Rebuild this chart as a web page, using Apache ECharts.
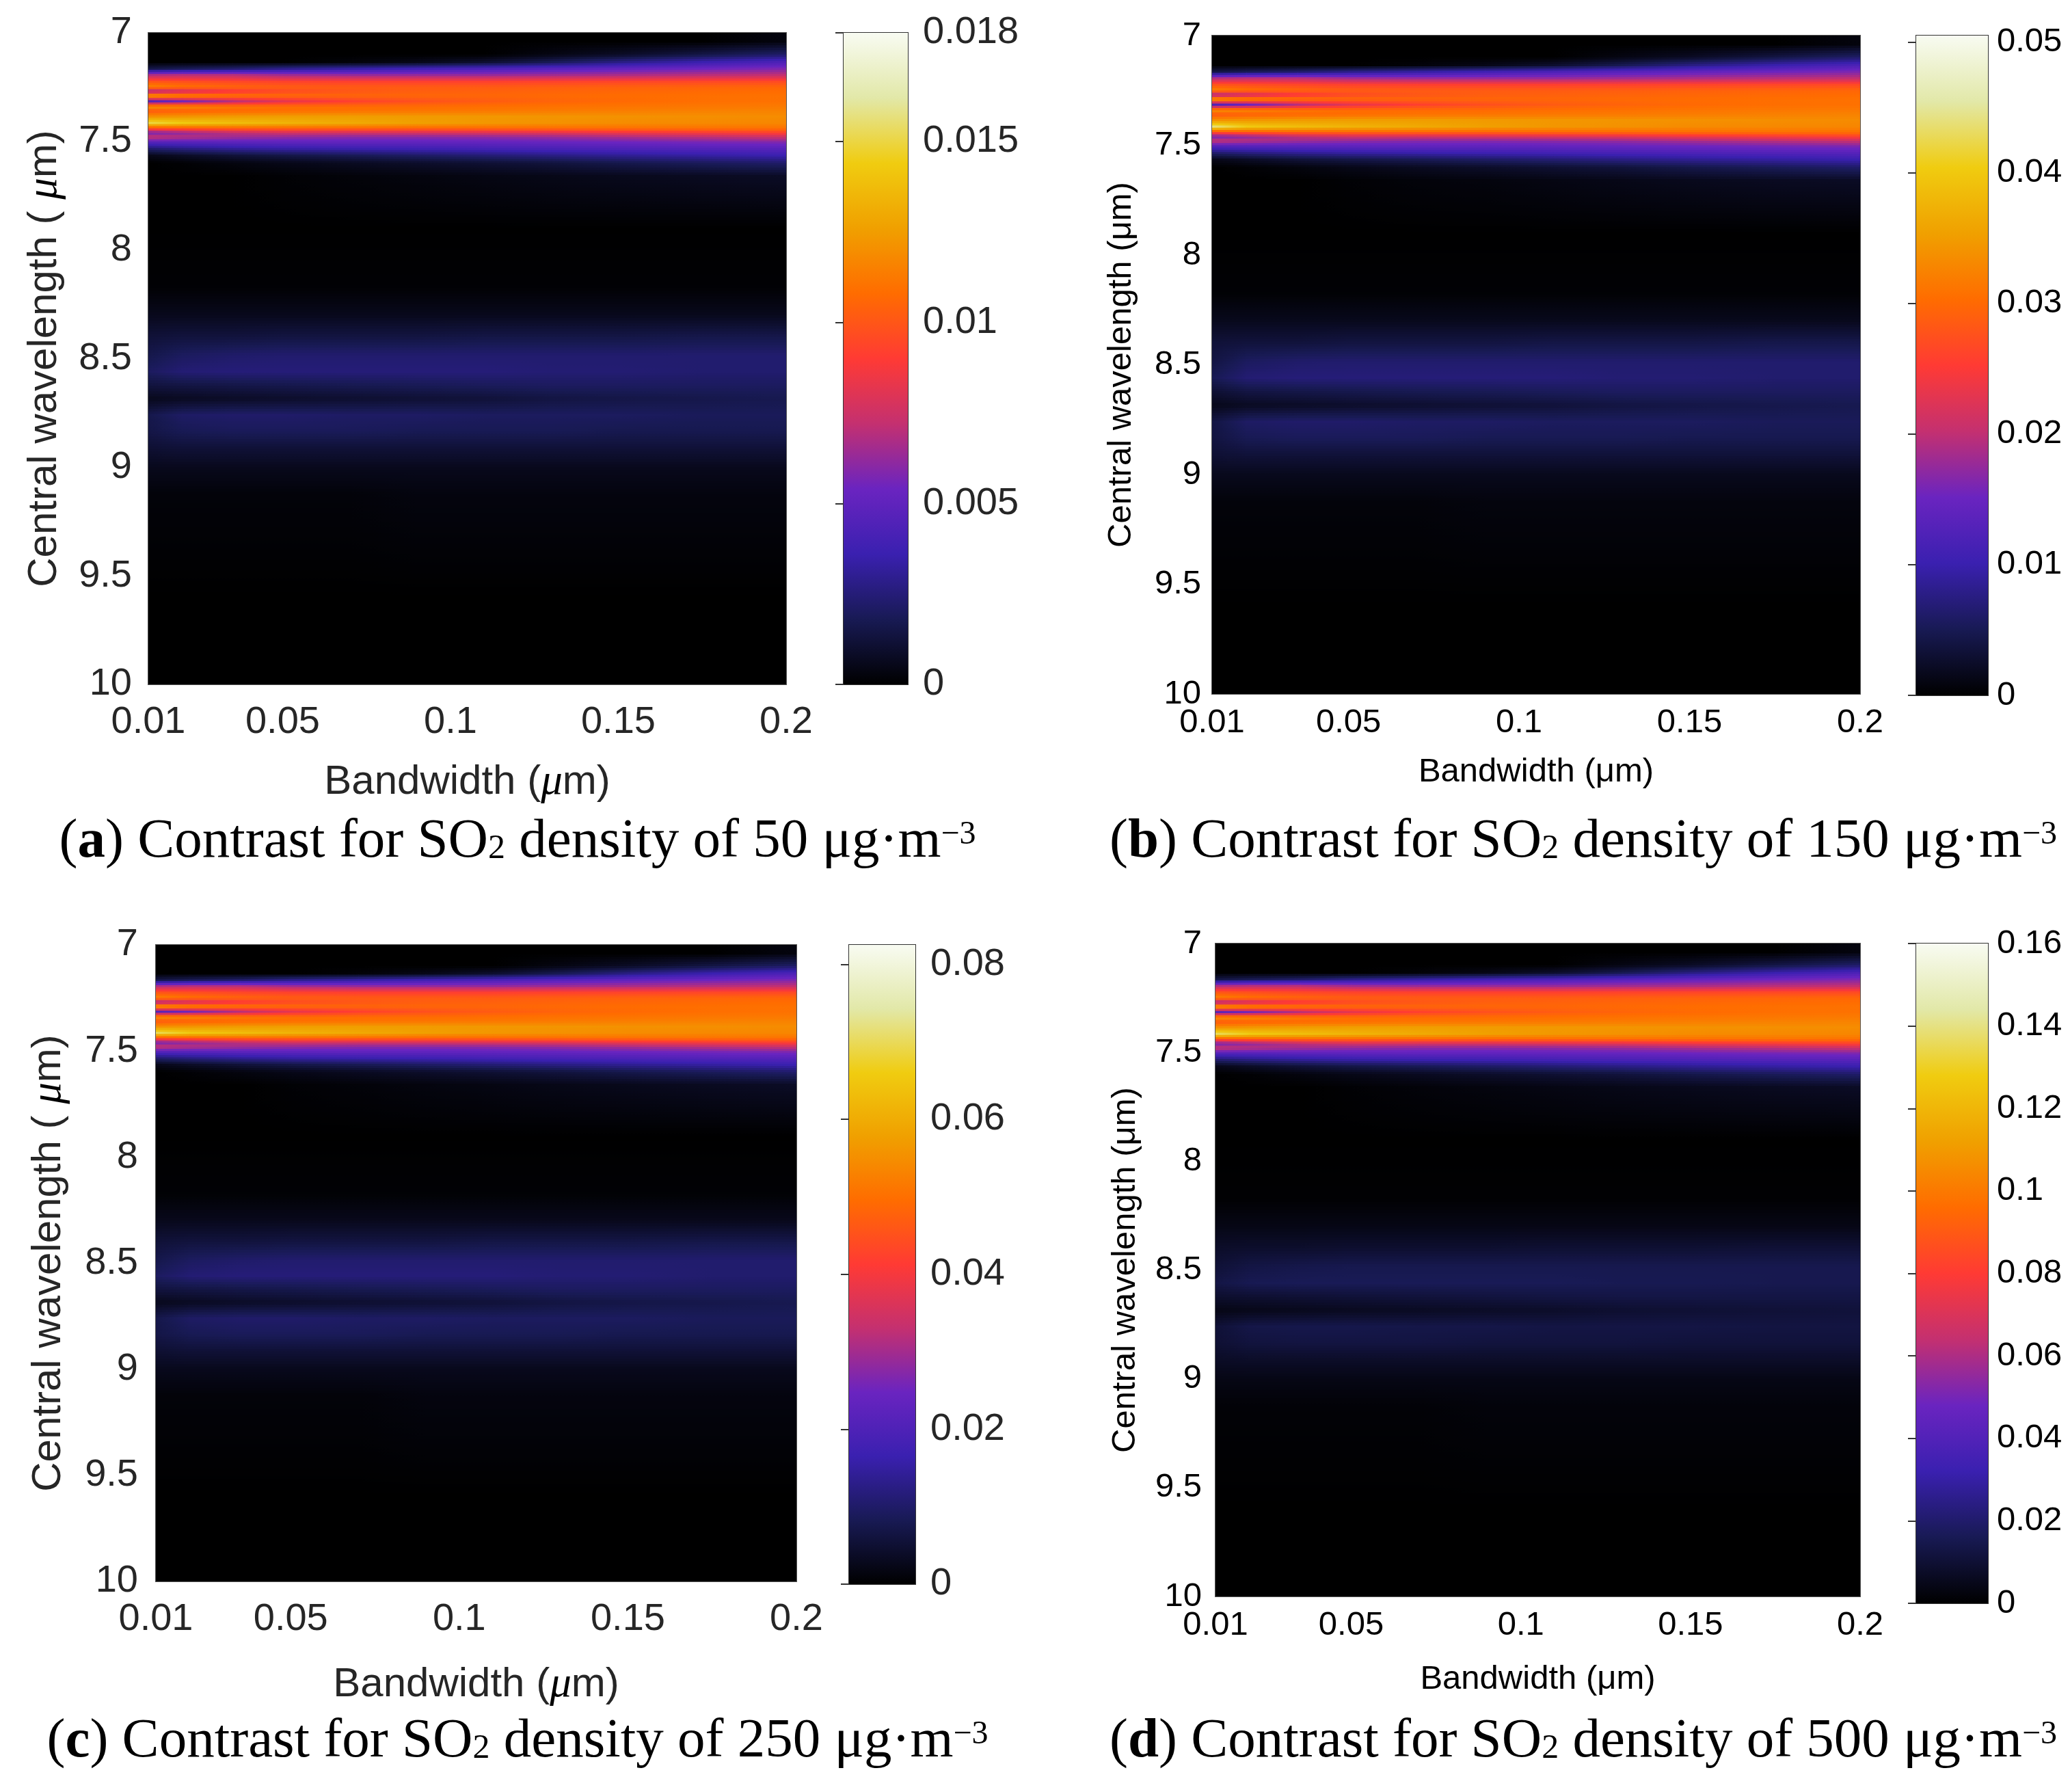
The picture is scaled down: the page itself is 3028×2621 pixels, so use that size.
<!DOCTYPE html>
<html>
<head>
<meta charset="utf-8">
<script src="https://cdn.jsdelivr.net/npm/echarts@6/dist/echarts.min.js"></script>
<style>
html,body{margin:0;padding:0;background:#fff;}
#chart{width:3028px;height:2621px;}
</style>
</head>
<body>
<div id="chart"></div>
<script>
var bandwidth = [0.01, 0.02, 0.035, 0.05, 0.07, 0.09, 0.11, 0.13, 0.15, 0.175, 0.2];
// row edges, central wavelength (um)
var wavelengthEdges = [7.00,7.08,7.12,7.15,7.18,7.21,7.24,7.26,7.28,7.30,7.33,7.35,7.37,7.40,7.43,7.45,7.47,7.49,7.52,7.55,
  7.58,7.62,7.70,8.10,8.25,8.35,8.45,8.52,8.60,8.65,8.72,8.80,8.87,8.95,9.05,9.20,10.0];

var bwTicks = [0.01, 0.05, 0.1, 0.15, 0.2];

// contrast, in units of 1e-4, one row per wavelength band
var contrast50 = [
  [0,0,0,0,0,0,0,0,0,0,3],
  [0,0,0,0,0,0,0,4,8,15,22],
  [0,0,0,0,2,5,10,18,27,36,43],
  [15,18,22,28,33,38,42,46,50,54,58],
  [68,70,70,65,63,63,63,65,67,70,72],
  [100,98,95,93,92,92,92,93,94,95,96],
  [117,110,106,103,102,102,102,103,104,105,106],
  [60,72,86,95,100,103,104,105,106,107,108],
  [130,120,112,108,106,106,106,107,108,109,110],
  [45,55,70,82,92,98,102,105,107,109,110],
  [122,118,112,109,108,108,109,110,111,112,113],
  [100,103,106,108,110,111,112,113,114,115,116],
  [120,122,124,125,125,124,123,122,121,120,119],
  [150,143,138,134,130,126,123,121,119,118,117],
  [98,102,105,106,106,106,107,108,109,110,110],
  [54,60,70,75,75,76,78,80,84,88,92],
  [74,70,65,62,60,60,61,63,66,70,74],
  [45,46,48,49,50,50,51,52,54,56,58],
  [22,26,30,33,35,37,39,41,43,45,47],
  [5,8,12,15,18,21,24,27,30,33,36],
  [0,1,3,5,7,9,11,13,16,19,22],
  [0,0,0,1,2,3,4,5,6,7,8],
  [0,0,0,0,0,0,0,0,0,0,0],
  [1,1,1,1,1,1,1,1,1,1,1],
  [6,6,6,6,6,6,6,6,6,6,6],
  [12,13,13,14,14,14,15,15,15,16,16],
  [16,20,22,23,23,23,23,23,23,23,23],
  [20,24,25,25,25,25,25,24,24,23,23],
  [13,14,15,16,17,18,19,20,20,20,20],
  [6,7,8,9,10,11,12,14,15,16,17],
  [16,21,22,22,21,21,20,20,20,19,19],
  [15,18,19,19,19,18,18,18,17,17,17],
  [11,12,12,12,12,12,12,12,12,12,12],
  [6,6,6,6,6,6,6,6,6,6,6],
  [2,2,2,2,2,3,3,3,3,3,3],
  [0,0,0,0,0,0,0,0,0,0,0]
];
var contrast150 = [
  [0,0,0,0,0,0,0,0,0,0,8],
  [0,0,0,0,0,0,0,11,22,42,62],
  [0,0,0,0,6,14,28,50,76,100,120],
  [40,50,62,78,92,106,118,129,140,151,162],
  [190,196,196,182,176,176,176,182,188,196,202],
  [280,274,266,260,258,258,258,260,263,266,269],
  [328,308,297,288,286,286,286,288,291,294,297],
  [165,200,240,266,280,288,291,294,297,300,302],
  [364,336,314,302,297,297,297,300,302,305,308],
  [120,150,195,230,258,274,286,294,300,305,308],
  [342,330,314,305,302,302,305,308,311,314,316],
  [280,288,297,302,308,311,314,316,319,322,325],
  [336,342,347,350,350,347,344,342,339,336,333],
  [440,400,386,375,364,353,344,339,333,330,328],
  [274,286,294,297,297,297,300,302,305,308,308],
  [150,168,196,210,210,213,218,224,235,246,258],
  [207,196,182,174,168,168,171,176,185,196,207],
  [126,129,134,137,140,140,143,146,151,157,162],
  [62,73,84,92,98,104,109,115,120,126,132],
  [14,22,34,42,50,59,67,76,84,92,101],
  [0,3,8,14,20,25,31,36,45,53,62],
  [0,0,0,3,6,8,11,14,17,20,22],
  [0,0,0,0,0,0,0,0,0,0,0],
  [3,3,3,3,3,3,3,3,3,3,3],
  [17,17,17,17,17,17,17,17,17,17,17],
  [34,36,36,39,39,39,42,42,42,45,45],
  [40,56,62,64,64,64,64,64,64,64,64],
  [50,67,70,70,70,70,70,67,67,64,64],
  [30,39,42,45,48,50,53,56,56,56,56],
  [15,20,22,25,28,31,34,39,42,45,48],
  [40,59,62,62,59,59,56,56,56,53,53],
  [38,50,53,53,53,50,50,50,48,48,48],
  [31,34,34,34,34,34,34,34,34,34,34],
  [17,17,17,17,17,17,17,17,17,17,17],
  [6,6,6,6,6,8,8,8,8,8,8],
  [0,0,0,0,0,0,0,0,0,0,0]
];
var contrast250 = [
  [0,0,0,0,0,0,0,0,0,0,14],
  [0,0,0,0,0,0,0,18,37,69,100],
  [0,0,0,0,9,23,46,82,124,165,197],
  [69,82,100,128,151,174,192,211,229,247,265],
  [311,320,320,298,288,288,288,298,307,320,330],
  [458,449,435,426,421,421,421,426,430,435,440],
  [536,504,485,472,467,467,467,472,476,481,485],
  [275,330,394,435,458,472,476,481,485,490,495],
  [595,550,513,495,485,485,485,490,495,499,504],
  [206,252,320,376,421,449,467,481,490,499,504],
  [559,540,513,499,495,495,499,504,508,513,517],
  [458,472,485,495,504,508,513,517,522,527,531],
  [550,559,568,572,572,568,563,559,554,550,545],
  [700,655,632,614,595,577,563,554,545,540,536],
  [449,467,481,485,485,485,490,495,499,504,504],
  [247,275,320,343,343,348,357,366,385,403,421],
  [339,320,298,284,275,275,279,289,302,320,339],
  [206,211,220,224,229,229,234,238,247,256,265],
  [101,119,137,151,160,169,179,188,197,206,215],
  [23,37,55,69,82,96,110,124,137,151,165],
  [0,5,14,23,32,41,50,60,73,87,101],
  [0,0,0,5,9,14,18,23,27,32,37],
  [0,0,0,0,0,0,0,0,0,0,0],
  [5,5,5,5,5,5,5,5,5,5,5],
  [27,27,27,27,27,27,27,27,27,27,27],
  [55,60,60,64,64,64,69,69,69,73,73],
  [73,92,101,105,105,105,105,105,105,105,105],
  [92,110,115,115,115,115,115,110,110,105,105],
  [60,64,69,73,78,82,87,92,92,92,92],
  [27,32,37,41,46,50,55,64,69,73,78],
  [73,96,101,101,96,96,92,92,92,87,87],
  [69,82,87,87,87,82,82,82,78,78,78],
  [50,55,55,55,55,55,55,55,55,55,55],
  [27,27,27,27,27,27,27,27,27,27,27],
  [9,9,9,9,9,14,14,14,14,14,14],
  [0,0,0,0,0,0,0,0,0,0,0]
];
var contrast500 = [
  [0,0,0,0,0,0,0,0,0,0,27],
  [0,0,0,0,0,0,0,36,71,134,196],
  [0,0,0,0,18,45,89,160,240,320,383],
  [134,160,196,249,294,338,374,409,445,481,516],
  [605,623,623,579,561,561,561,579,596,623,641],
  [890,872,846,828,819,819,819,828,837,846,854],
  [1041,979,943,917,908,908,908,917,926,935,943],
  [534,641,765,846,890,917,926,935,943,952,961],
  [1157,1068,997,961,943,943,943,952,961,970,979],
  [400,490,623,730,819,872,908,935,952,970,979],
  [1086,1050,997,970,961,961,970,979,988,997,1006],
  [890,917,943,961,979,988,997,1006,1015,1024,1032],
  [1068,1086,1104,1113,1113,1104,1095,1086,1077,1068,1059],
  [1360,1273,1228,1193,1157,1121,1095,1077,1059,1050,1041],
  [872,908,935,943,943,943,952,961,970,979,979],
  [481,534,623,668,668,676,694,712,748,783,819],
  [659,623,579,552,534,534,543,561,587,623,659],
  [400,409,427,436,445,445,454,463,481,498,516],
  [196,231,267,294,312,329,347,365,383,400,418],
  [45,71,107,134,160,187,214,240,267,294,320],
  [0,9,27,45,62,80,98,116,142,169,196],
  [0,0,0,9,18,27,36,45,53,62,71],
  [0,0,0,0,0,0,0,0,0,0,0],
  [6,6,6,6,6,6,6,6,6,6,6],
  [40,40,40,40,40,40,40,40,40,40,40],
  [78,85,85,91,91,91,98,98,98,104,104],
  [104,130,143,150,150,150,150,150,150,150,150],
  [130,156,163,163,163,163,163,156,156,150,150],
  [85,91,98,104,110,117,124,130,130,130,130],
  [39,46,52,59,65,72,78,91,98,104,110],
  [104,137,143,143,137,137,130,130,130,124,124],
  [98,117,124,124,124,117,117,117,111,111,111],
  [72,78,78,78,78,78,78,78,78,78,78],
  [39,39,39,39,39,39,39,39,39,39,39],
  [13,13,13,13,13,20,20,20,20,20,20],
  [0,0,0,0,0,0,0,0,0,0,0]
];

var cbTicks50 = [0, 0.005, 0.01, 0.015, 0.018];
var cbTicks150 = [0, 0.01, 0.02, 0.03, 0.04, 0.05];
var cbTicks250 = [0, 0.02, 0.04, 0.06, 0.08];
var cbTicks500 = [0, 0.02, 0.04, 0.06, 0.08, 0.1, 0.12, 0.14, 0.16];

// colour map of the figure, black -> blue -> purple -> red -> orange -> yellow -> white
var CMAP = ['#000000','#181a54','#3a20b0','#6a24c0','#c43070','#ff3a34','#ff6c00','#f0a000','#f0cc10','#e2e8a8','#f8fbf2'];
var CMAP_RGB = CMAP.map(function (h) {
  return [parseInt(h.substr(1,2),16), parseInt(h.substr(3,2),16), parseInt(h.substr(5,2),16)];
});
function cmap(t) {
  t = Math.max(0, Math.min(1, t));
  var p = t * (CMAP_RGB.length - 1);
  var i = Math.min(Math.floor(p), CMAP_RGB.length - 2);
  var f = p - i, a = CMAP_RGB[i], b = CMAP_RGB[i + 1];
  return 'rgb(' + Math.round(a[0] + (b[0]-a[0])*f) + ',' + Math.round(a[1] + (b[1]-a[1])*f) + ',' + Math.round(a[2] + (b[2]-a[2])*f) + ')';
}

// row centres, used for smooth (interpolated) shading between rows
var rowCentres = wavelengthEdges.slice(0, -1).map(function (e, i) { return (e + wavelengthEdges[i + 1]) / 2; });
function shadeRow(rows, w) {
  var n = rowCentres.length;
  if (w <= rowCentres[0]) return rows[0];
  if (w >= rowCentres[n - 1]) return rows[n - 1];
  var i = 0;
  while (i < n - 2 && rowCentres[i + 1] < w) i++;
  var f = (w - rowCentres[i]) / (rowCentres[i + 1] - rowCentres[i]);
  return rows[i].map(function (v, j) { return v + (rows[i + 1][j] - v) * f; });
}

var SANS = "'Liberation Sans', Arial, sans-serif";
var SERIF = "'Liberation Serif', 'Times New Roman', serif";

var panels = [
  { letter: 'a', conc: '50', data: contrast50, max: 0.018, cbTicks: cbTicks50, italicMu: true,
    plot: {left: 217, top: 48, width: 933, height: 953}, cb: {left: 1234, top: 48, width: 94, height: 953},
    font: 56, nameFont: 60, tickColor: '#262626', yLabelMargin: 24, xLabelMargin: 28, cbMargin: 22,
    yNameGap: 120, xNameGap: 112, captionX: 757, captionTop: 1197 },
  { letter: 'b', conc: '150', data: contrast150, max: 0.0505, cbTicks: cbTicks150, italicMu: false,
    plot: {left: 1773, top: 52, width: 948, height: 963}, cb: {left: 2803, top: 52, width: 105, height: 965},
    font: 49, nameFont: 49, tickColor: '#000', yLabelMargin: 16, xLabelMargin: 18, cbMargin: 13,
    yNameGap: 108, xNameGap: 90, captionX: 2316, captionTop: 1197 },
  { letter: 'c', conc: '250', data: contrast250, max: 0.0825, cbTicks: cbTicks250, italicMu: true,
    plot: {left: 228, top: 1382, width: 937, height: 931}, cb: {left: 1242, top: 1382, width: 97, height: 935},
    font: 56, nameFont: 60, tickColor: '#262626', yLabelMargin: 26, xLabelMargin: 28, cbMargin: 22,
    yNameGap: 125, xNameGap: 120, captionX: 757, captionTop: 2513 },
  { letter: 'd', conc: '500', data: contrast500, max: 0.16, cbTicks: cbTicks500, italicMu: false,
    plot: {left: 1778, top: 1380, width: 943, height: 955}, cb: {left: 2803, top: 1380, width: 105, height: 965},
    font: 49, nameFont: 49, tickColor: '#000', yLabelMargin: 20, xLabelMargin: 18, cbMargin: 13,
    yNameGap: 107, xNameGap: 97, captionX: 2316, captionTop: 2513 }
];

var option = {
  backgroundColor: '#fff',
  animation: false,
  grid: [], xAxis: [], yAxis: [], series: [], title: []
};

panels.forEach(function (p, k) {
  var gi = 2 * k, ci = 2 * k + 1;
  var muRich = { i: { fontStyle: 'italic', fontFamily: SERIF, fontSize: p.nameFont * 1.05, color: '#000' } };
  var yName = p.italicMu ? 'Central wavelength ( {i|μ}m)' : 'Central wavelength (μm)';
  var xName = p.italicMu ? 'Bandwidth ({i|μ}m)' : 'Bandwidth (μm)';

  option.grid.push({ left: p.plot.left, top: p.plot.top, width: p.plot.width, height: p.plot.height,
    show: true, backgroundColor: '#000', borderColor: '#555', borderWidth: 2 });
  option.grid.push({ left: p.cb.left, top: p.cb.top, width: p.cb.width, height: p.cb.height,
    show: true, backgroundColor: 'transparent', borderColor: '#333', borderWidth: 2 });

  option.xAxis.push({
    type: 'value', gridIndex: gi, min: 0.01, max: 0.2,
    name: xName, nameLocation: 'middle', nameGap: p.xNameGap,
    nameTextStyle: { fontFamily: SANS, fontSize: p.nameFont, color: p.tickColor, rich: muRich },
    axisLine: { show: true, lineStyle: { color: '#555', width: 2 } },
    axisTick: { show: true, inside: true, length: 12, customValues: bwTicks, lineStyle: { color: '#555', width: 2 } },
    axisLabel: { customValues: bwTicks, margin: p.xLabelMargin, fontFamily: SANS, fontSize: p.font, color: p.tickColor,
      formatter: function (v) { return String(v); } },
    splitLine: { show: false }
  });
  option.yAxis.push({
    type: 'value', gridIndex: gi, min: 7, max: 10, interval: 0.5, inverse: true,
    name: yName, nameLocation: 'middle', nameGap: p.yNameGap, nameRotate: 90,
    nameTextStyle: { fontFamily: SANS, fontSize: p.nameFont, color: p.tickColor, rich: muRich },
    axisLine: { show: true, lineStyle: { color: '#555', width: 2 } },
    axisTick: { show: true, inside: true, length: 12, lineStyle: { color: '#555', width: 2 } },
    axisLabel: { margin: p.yLabelMargin, fontFamily: SANS, fontSize: p.font, color: p.tickColor,
      formatter: function (v) { return String(v); } },
    splitLine: { show: false }
  });
  option.xAxis.push({ type: 'value', gridIndex: ci, min: 0, max: 1, show: false });
  option.yAxis.push({
    type: 'value', gridIndex: ci, min: 0, max: p.max, position: 'right',
    axisLine: { show: false },
    axisTick: { show: true, inside: true, length: 12, customValues: p.cbTicks, lineStyle: { color: '#333', width: 2 } },
    axisLabel: { customValues: p.cbTicks, margin: p.cbMargin, fontFamily: SANS, fontSize: p.font, color: p.tickColor,
      formatter: function (v) { return String(v); } },
    splitLine: { show: false }
  });

  var rows = p.data;
  option.series.push({
    type: 'custom', xAxisIndex: gi, yAxisIndex: gi, clip: true, silent: true,
    data: rows.map(function (r, i) { return [bandwidth[0], wavelengthEdges[i], i]; }),
    renderItem: function (params, api) {
      var r = api.value(2), children = [];
      var top = wavelengthEdges[r], bot = wavelengthEdges[r + 1];
      var hPx = api.coord([bandwidth[0], bot])[1] - api.coord([bandwidth[0], top])[1];
      var K = Math.max(2, Math.ceil(hPx / 4));
      var xs = bandwidth.map(function (b) { return api.coord([b, top])[0]; });
      for (var k = 0; k < K; k++) {
        var w0 = top + (bot - top) * k / K, w1 = top + (bot - top) * (k + 1) / K;
        var vals = shadeRow(rows, (w0 + w1) / 2);
        var y0 = api.coord([bandwidth[0], w0])[1], y1 = api.coord([bandwidth[0], w1])[1];
        for (var j = 0; j < bandwidth.length - 1; j++) {
          var stops = [];
          for (var s = 0; s <= 4; s++) {
            var v = vals[j] + (vals[j + 1] - vals[j]) * s / 4;
            stops.push({ offset: s / 4, color: cmap(v * 1e-4 / p.max) });
          }
          children.push({
            type: 'rect',
            shape: { x: xs[j], y: y0, width: xs[j + 1] - xs[j] + 1, height: y1 - y0 + 1 },
            style: { fill: new echarts.graphic.LinearGradient(0, 0, 1, 0, stops) }
          });
        }
      }
      return { type: 'group', children: children };
    }
  });
  option.series.push({
    type: 'custom', xAxisIndex: ci, yAxisIndex: ci, silent: true,
    data: [[0, 0]],
    renderItem: function (params, api) {
      var lo = api.coord([0, 0]), hi = api.coord([1, p.max]);
      return {
        type: 'rect', z2: -1,
        shape: { x: lo[0], y: hi[1], width: hi[0] - lo[0], height: lo[1] - hi[1] },
        style: { fill: new echarts.graphic.LinearGradient(0, 1, 0, 0,
          CMAP.map(function (c, i) { return { offset: i / (CMAP.length - 1), color: c }; })) }
      };
    }
  });

  option.title.push({
    text: '({b|' + p.letter + '}) Contrast for SO{s|2} density of ' + p.conc + ' μg·m{p|−3}',
    left: p.captionX, top: p.captionTop, textAlign: 'center', padding: 0,
    textStyle: {
      fontFamily: SERIF, fontSize: 81, fontWeight: 'normal', color: '#000', lineHeight: 70,
      rich: {
        b: { fontFamily: SERIF, fontSize: 81, fontWeight: 'bold', color: '#000', lineHeight: 70 },
        s: { fontFamily: SERIF, fontSize: 50, color: '#000', verticalAlign: 'bottom' },
        p: { fontFamily: SERIF, fontSize: 48, color: '#000', verticalAlign: 'top' }
      }
    }
  });
});

var chart = echarts.init(document.getElementById('chart'), null, { renderer: 'canvas' });
chart.setOption(option);
</script>
</body>
</html>
